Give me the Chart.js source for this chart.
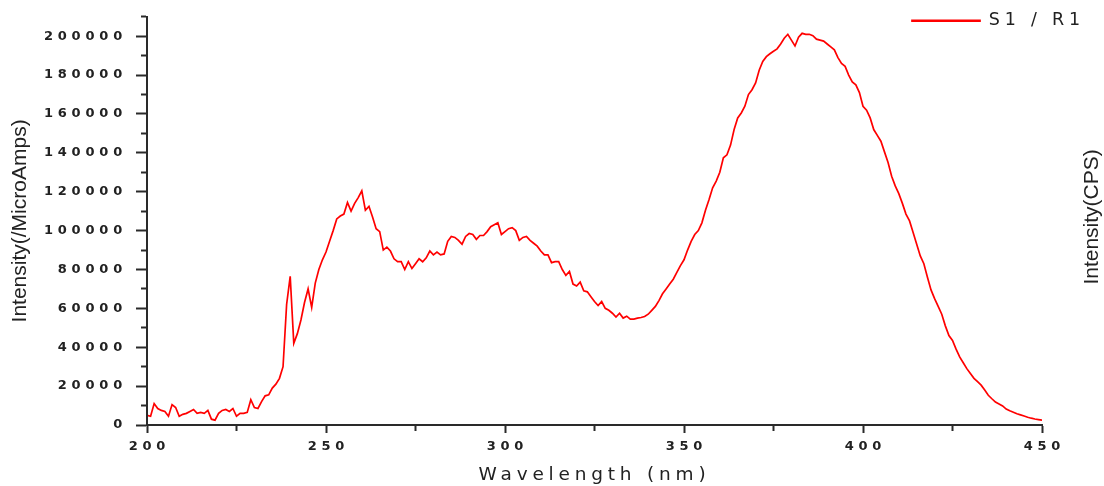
<!DOCTYPE html>
<html>
<head>
<meta charset="utf-8">
<script src="https://cdn.jsdelivr.net/npm/chart.js@4.4.1/dist/chart.umd.min.js"></script>
<style>
  html, body { margin: 0; padding: 0; background: #ffffff; }
  #wrap { width: 1104px; height: 486px; position: relative; }
</style>
</head>
<body>
<div id="wrap"><canvas id="c"></canvas></div>
<script>
// ---------- data ----------
const seriesName = 'S1 / R1';
const xAxisTitle = 'Wavelength (nm)';
const leftAxisTitle = 'Intensity(/MicroAmps)';
const rightAxisTitle = 'Intensity(CPS)';

// wavelength categories: 200 ... 450 nm, 1 nm apart
const wavelengthFirst = 200;
const wavelengthLast = 450;

const intensity200to249 = [
  5000, 4500, 11000, 8500, 7500, 7000, 4500, 10500, 9000, 4500,
  5500, 6000, 7000, 8000, 6000, 6500, 6000, 7500, 3000, 2500,
  6000, 7500, 8000, 7000, 8500, 4500, 6000, 6000, 6500, 13000,
  9000, 8500, 12000, 15000, 15500, 19000, 21000, 24000, 30000, 62000,
  76500, 42000, 47000, 54000, 63000, 70000, 60500, 73000, 80000, 85000
];
const intensity250to299 = [
  89000, 94500, 100000, 106000, 107500, 108500, 114500, 110000, 114000, 117000,
  120500, 110500, 112500, 107000, 101000, 99500, 90000, 91500, 89500, 85500,
  84000, 84000, 80000, 84000, 80500, 83000, 85500, 84000, 86000, 89500,
  87500, 89000, 87500, 88000, 94500, 97000, 96500, 95000, 93000, 97000,
  98500, 98000, 95500, 97500, 97500, 99500, 102000, 103000, 104000, 98000
];
const intensity300to349 = [
  99500, 101000, 101500, 100000, 95000, 96500, 97000, 95000, 93500, 92000,
  89500, 87500, 87500, 83500, 84000, 84000, 80000, 77000, 79000, 72500,
  71500, 73500, 69000, 68500, 66000, 63500, 61500, 63500, 60000, 59000,
  57500, 55500, 57500, 55000, 56000, 54500, 54500, 55000, 55300, 55800,
  57000, 59000, 61000, 64000, 67500, 70000, 72500, 75000, 78500, 82000
];
const intensity350to399 = [
  85000, 90000, 94500, 98000, 100000, 104000, 110500, 116000, 122000, 125500,
  130000, 137500, 139000, 144000, 152000, 158000, 160500, 164000, 170000, 172500,
  176000, 182500, 187000, 189500, 191000, 192300, 193500, 196000, 199000, 201000,
  198000, 195000, 199500, 201500, 201000, 201000, 200300, 198500, 198000, 197500,
  196000, 194500, 193000, 189000, 186000, 184500, 180000, 176500, 175000, 171000
];
const intensity400to450 = [
  164000, 162000, 158000, 152000, 149000, 146000, 140500, 135000, 128000, 123000,
  119000, 114000, 108500, 105000, 99000, 93000, 87000, 83000, 76000, 69500,
  65000, 61000, 57000, 51000, 46000, 43500, 39000, 35000, 32000, 29000,
  26500, 24000, 22300, 20500, 18000, 15300, 13500, 11800, 10800, 9800,
  8200, 7300, 6600, 5800, 5200, 4600, 4000, 3500, 3100, 2800,
  2500
];

// axis ticks
const xMajorTicks = [200, 250, 300, 350, 400, 450];
const xMinorTicks = [225, 275, 325, 375, 425];
const yMajorTicks = [0, 20000, 40000, 60000, 80000, 100000, 120000, 140000, 160000, 180000, 200000];
const yMinorTicks = [10000, 30000, 50000, 70000, 90000, 110000, 130000, 150000, 170000, 190000, 210000];
const yMin = 0, yMax = 210000;

// ---------- build ----------
const intensity = [].concat(intensity200to249, intensity250to299, intensity300to349, intensity350to399, intensity400to450);
const points = intensity.map((v, i) => ({ x: wavelengthFirst + i, y: v }));

const axisColor = '#2a2a2a';
const textColor = '#222222';
const lineRed = 'rgb(255,0,0)';
const wideSpacing = '4.8px';

const xTickValues = xMajorTicks.concat(xMinorTicks).sort((a, b) => a - b);
const yTickValues = yMajorTicks.concat(yMinorTicks).sort((a, b) => a - b);
const isMajorX = (t) => t && xMajorTicks.includes(t.value);
const isMajorY = (t) => t && yMajorTicks.includes(t.value);

// spacing of canvas text: wide for ticks/legend/x title, none for vertical titles
const textSpacingPlugin = {
  id: 'textSpacing',
  beforeDraw(chart) { chart.ctx.letterSpacing = wideSpacing; },
  afterDatasetsDraw(chart) { chart.ctx.letterSpacing = '0px'; },
  afterDraw(chart) { chart.ctx.letterSpacing = '0px'; }
};

// legend placed at top right, above the plot corner
const legendPlacePlugin = {
  id: 'legendPlace',
  afterLayout(chart) {
    const lg = chart.legend;
    if (!lg) return;
    const h = lg.height;
    lg.left = chart.chartArea.right - 140;
    lg.top = 2;
    lg.right = chart.width;
    lg.bottom = lg.top + h + 20;
  }
};

// right-hand axis title, reading bottom to top
const rightTitlePlugin = {
  id: 'rightTitle',
  afterDatasetsDraw(chart) {
    const { ctx, chartArea } = chart;
    ctx.save();
    ctx.letterSpacing = '0px';
    ctx.font = '21px "Liberation Sans", Arial, sans-serif';
    ctx.fillStyle = textColor;
    ctx.textAlign = 'center';
    ctx.textBaseline = 'middle';
    ctx.translate(chartArea.right + 50, (chartArea.top + chartArea.bottom) / 2 - 4);
    ctx.rotate(-Math.PI / 2);
    ctx.fillText(rightAxisTitle, 0, 0);
    ctx.restore();
  }
};

new Chart(document.getElementById('c'), {
  type: 'line',
  data: {
    datasets: [{
      label: seriesName,
      data: points,
      borderColor: lineRed,
      backgroundColor: lineRed,
      borderWidth: 1.7,
      pointRadius: 0,
      tension: 0,
      fill: false
    }]
  },
  options: {
    responsive: true,
    maintainAspectRatio: false,
    animation: false,
    devicePixelRatio: 1,
    layout: { padding: { top: 14, right: 62, bottom: 0, left: 0 } },
    plugins: {
      tooltip: { enabled: false },
      legend: {
        display: true,
        position: 'chartArea',
        align: 'start',
        labels: {
          boxWidth: 68,
          boxHeight: 1,
          padding: 10,
          color: textColor,
          font: { family: '"DejaVu Sans", sans-serif', size: 17.5 }
        }
      }
    },
    scales: {
      x: {
        type: 'linear',
        position: 'bottom',
        min: wavelengthFirst,
        max: wavelengthLast,
        afterBuildTicks: (scale) => { scale.ticks = xTickValues.map(v => ({ value: v })); },
        afterFit: (scale) => { scale.height = 61; },
        grid: {
          display: true,
          drawOnChartArea: false,
          drawTicks: true,
          tickLength: 8,
          tickColor: axisColor,
          tickWidth: 2,
          tickBorderDash: (c) => isMajorX(c.tick) ? [] : [5, 100],
          tickBorderDashOffset: 0
        },
        border: { display: true, color: axisColor, width: 2 },
        ticks: {
          autoSkip: false,
          maxRotation: 0,
          padding: 6,
          labelOffset: 2.4,
          color: textColor,
          font: { family: '"DejaVu Sans", sans-serif', size: 13, weight: 'bold' },
          callback: (v) => xMajorTicks.includes(v) ? String(v) : ''
        },
        title: {
          display: true,
          text: xAxisTitle,
          color: textColor,
          font: { family: '"DejaVu Sans", sans-serif', size: 18.5 },
          padding: { top: 0, bottom: 0 }
        }
      },
      y: {
        type: 'linear',
        position: 'left',
        min: yMin,
        max: yMax,
        afterBuildTicks: (scale) => { scale.ticks = yTickValues.map(v => ({ value: v })); },
        afterFit: (scale) => { scale.width = 147; },
        grid: {
          display: true,
          drawOnChartArea: false,
          drawTicks: true,
          tickLength: 11,
          tickColor: axisColor,
          tickWidth: 2,
          tickBorderDash: (c) => isMajorY(c.tick) ? [] : [6, 100],
          tickBorderDashOffset: (c) => isMajorY(c.tick) ? 0 : 101,
          z: 1
        },
        border: { display: true, color: axisColor, width: 2, z: 1 },
        ticks: {
          autoSkip: false,
          padding: 9,
          color: textColor,
          font: { family: '"DejaVu Sans", sans-serif', size: 13, weight: 'bold' },
          callback: (v) => yMajorTicks.includes(v) ? String(v) : ''
        },
        title: {
          display: true,
          text: leftAxisTitle,
          color: textColor,
          font: { family: '"Liberation Sans", Arial, sans-serif', size: 21 },
          padding: { top: 8, bottom: 0 }
        }
      }
    }
  },
  plugins: [textSpacingPlugin, legendPlacePlugin, rightTitlePlugin]
});
</script>
</body>
</html>
